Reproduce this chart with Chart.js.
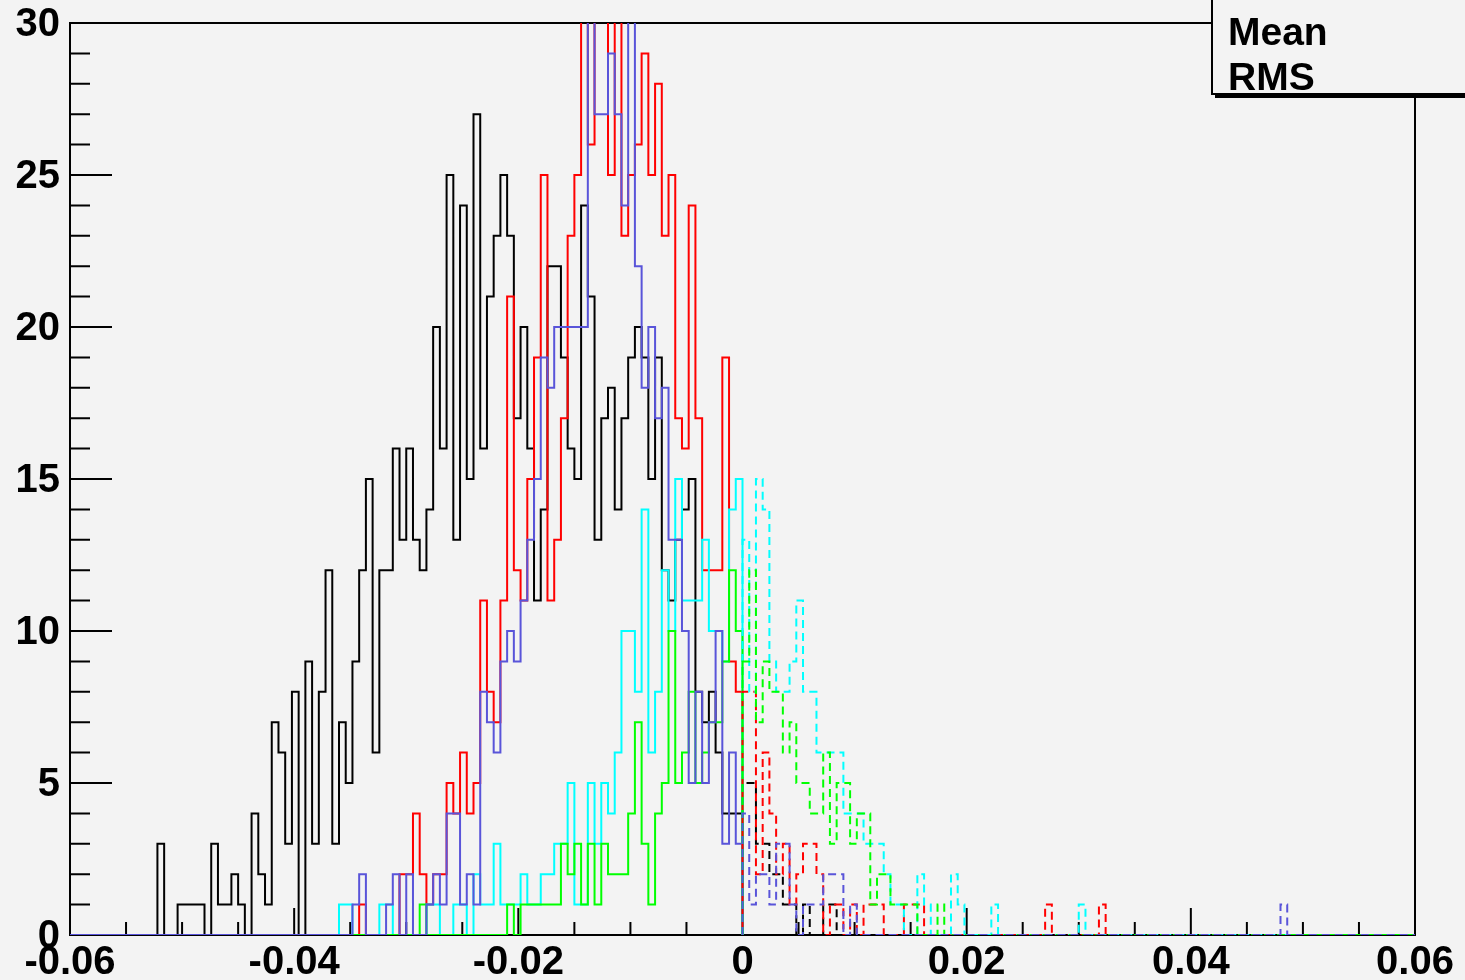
<!DOCTYPE html>
<html>
<head>
<meta charset="utf-8">
<script src="https://cdn.jsdelivr.net/npm/chart.js@4.4.0/dist/chart.umd.min.js"></script>
<style>
    html, body { margin: 0; padding: 0; background: #f3f3f3; overflow: hidden; }
    #wrap { position: relative; width: 1465px; height: 980px; }
    #stats { position: absolute; left: 1211px; top: -20px; width: 300px; height: 111px;
             border: 2px solid #000; box-shadow: 4px 3px 0 #000; background: #f3f3f3; }
    .stat { position: absolute; left: 1228px; font: bold 39px "Liberation Sans", Arial, sans-serif;
            line-height: 39px; color: #000; }
</style>
</head>
<body>
<div id="wrap">
    <canvas id="histChart" width="1465" height="980"></canvas>
    <div id="stats"></div>
    <div class="stat" style="top:12px">Mean</div>
    <div class="stat" style="top:57px">RMS</div>
</div>
<script>
// 200 bins from -0.06 to 0.06
const binLow = -0.06;
const binWidth = 0.0006;
const nBins = 200;

const xTickValues = [-0.06, -0.04, -0.02, 0, 0.02, 0.04, 0.06];
const yTickValues = [0, 5, 10, 15, 20, 25, 30];

// solid histograms (x < 0), counts start at the given bin
const blackFirst = 13;
const blackSolid = [3,0,0,1,1,1,1,0,3,1, 1,2,1,0,4,2,1,7,6,3, 8,0,9,3,8,12,3,7,5,9,
    12,15,6,12,12,16,13,16,13,12, 14,20,16,25,13,24,15,27,16,21, 23,25,23,17,20,16,11,14,22,22,
    19,16,15,24,21,13,17,18,14,17, 19,20,19,15,19,12,11,13,14,15, 8,7,8,6,4,4,4];

const redFirst = 43;
const redSolid = [1,0,0,0,0,0,2,2,4,2, 1,2,2,5,4,6,4,5,11,8, 7,11,21,12,11,15,19,25,11,13,
    17,23,25,31,26,31,31,25,31,23, 25,26,29,25,28,23,25,17,16,24, 17,12,12,12,19,9,8];

const blueFirst = 42;
const blueSolid = [1,2,0,0,0,1,2,0,2,0, 0,1,2,1,4,4,1,2,1,8, 7,6,9,10,9,11,13,15,19,18,
    20,20,20,20,20,31,27,27,29,27, 24,31,22,18,20,17,18,13,13,10, 5,8,5,7,10,3,6,3];

const cyanFirst = 40;
const cyanSolid = [1,1,0,0,0,0,1,1,0,0, 0,0,0,1,1,0,0,1,1,0, 2,1,1,3,1,1,1,2,1,1,
    2,2,3,3,5,1,1,5,3,5, 4,6,10,10,8,14,6,8,12,10, 15,11,11,11,13,10,10,9,14,15];

const greenFirst = 52;
const greenSolid = [1,0,0,0,0,0,0,0,0,0, 0,0,0,1,0,1,1,1,1,1, 1,3,2,3,1,3,1,3,2,2,
    2,4,7,3,1,4,5,10,5,6, 8,5,6,7,7,9,12,10];

// dashed histograms (x >= 0), counts start at bin 100
const dashedFirst = 100;
const blackDashed = [5,5,3,3,2,2,1,1,0,1, 0,0,1,1];
const redDashed = [8,8,2,6,4,2,3,1,2,3, 3,2,0,1,1,0,1,0,1,1, 1,0,0,0,1,1,1,0,0,0,
    0,0,0,0,0,0,0,0,0,0, 0,0,0,0,0,1,0,0,0,0, 0,0,0,1];
const greenDashed = [9,12,7,9,8,8,6,7,5,5, 4,4,6,3,5,5,3,4,4,1, 2,2,1,1,1,1,0,0,0,1];
const cyanDashed = [13,8,15,14,9,8,8,9,11,8, 8,6,6,6,6,4,4,4,3,3, 3,2,1,1,0,0,2,1,0,0,
    0,2,1,0,0,0,0,1,0,0, 0,0,0,0,0,0,0,0,0,0, 1];
const blueDashed = [4,1,2,2,1,3,3,1,0,1, 1,1,2,2,2,0,1,0,0,0, 0,0,0,0,0,0,0,0,0,0,
    0,0,0,0,0,0,0,0,0,0, 0,0,0,0,0,0,0,0,0,0, 0,0,0,0,0,0,0,0,0,0,
    0,0,0,0,0,0,0,0,0,0, 0,0,0,0,0,0,0,0,0,0, 1];

// outline points at bin edges, drawn as a step line
function histPoints(counts, firstBin, fromBin, toBin) {
    const pts = [{ x: binLow + fromBin * binWidth, y: 0 }];
    for (let i = fromBin; i < toBin; i++) {
        const k = i - firstBin;
        const v = (k >= 0 && k < counts.length) ? counts[k] : 0;
        pts.push({ x: binLow + i * binWidth, y: v });
    }
    pts.push({ x: binLow + toBin * binWidth, y: 0 });
    return pts;
}

function histDataset(label, counts, firstBin, fromBin, toBin, color, dashed) {
    return {
        label: label,
        data: histPoints(counts, firstBin, fromBin, toBin),
        borderColor: color,
        borderWidth: 2,
        borderDash: dashed ? [8, 5] : [],
        borderDashOffset: 0,
        pointRadius: 0,
        fill: false,
        stepped: 'before',
        tension: 0
    };
}

const blue = 'rgb(89,84,217)';

// first dataset is drawn on top
const datasets = [
    histDataset('blue dashed', blueDashed, dashedFirst, 100, nBins, blue, true),
    histDataset('green dashed', greenDashed, dashedFirst, 100, nBins, '#00ff00', true),
    histDataset('cyan dashed', cyanDashed, dashedFirst, 100, nBins, '#00ffff', true),
    histDataset('red dashed', redDashed, dashedFirst, 100, nBins, '#ff0000', true),
    histDataset('black dashed', blackDashed, dashedFirst, 100, nBins, '#000000', true),
    histDataset('blue', blueSolid, blueFirst, 0, 100, blue, false),
    histDataset('green', greenSolid, greenFirst, 0, 100, '#00ff00', false),
    histDataset('cyan', cyanSolid, cyanFirst, 0, 100, '#00ffff', false),
    histDataset('red', redSolid, redFirst, 0, 100, '#ff0000', false),
    histDataset('black', blackSolid, blackFirst, 0, 100, '#000000', false)
];
datasets[3].borderDashOffset = 6;

// frame and inward ticks, ROOT style
const rootFrame = {
    id: 'rootFrame',
    beforeDatasetsDraw(chart) {
        const ctx = chart.ctx;
        const a = chart.chartArea;
        const xs = chart.scales.x;
        const ys = chart.scales.y;
        ctx.save();
        ctx.strokeStyle = '#000';
        ctx.lineWidth = 2;
        ctx.strokeRect(a.left, a.top, a.right - a.left, a.bottom - a.top);
        ctx.beginPath();
        for (let v = 0; v <= 30; v++) {
            const py = ys.getPixelForValue(v);
            ctx.moveTo(a.left, py);
            ctx.lineTo(a.left + (v % 5 === 0 ? 42 : 20), py);
        }
        for (let k = -12; k <= 12; k++) {
            const px = xs.getPixelForValue(k * 0.005);
            ctx.moveTo(px, a.bottom);
            ctx.lineTo(px, a.bottom - (k % 4 === 0 ? 27 : 13));
        }
        ctx.stroke();
        ctx.restore();
    }
};

function fixBox(width, height) {
    return function (scale) {
        if (width !== null) scale.width = width;
        if (height !== null) scale.height = height;
        scale.paddingLeft = 0;
        scale.paddingRight = 0;
        scale.paddingTop = 0;
        scale.paddingBottom = 0;
    };
}

document.addEventListener('DOMContentLoaded', function () {
    Chart.defaults.font.family = '"Liberation Sans", Arial, sans-serif';
    Chart.defaults.font.size = 40;
    Chart.defaults.font.weight = 'bold';
    Chart.defaults.color = '#000';

    new Chart(document.getElementById('histChart').getContext('2d'), {
        type: 'line',
        data: { datasets: datasets },
        options: {
            responsive: false,
            animation: false,
            devicePixelRatio: 1,
            layout: { padding: { left: 0, right: 50, top: 23, bottom: 0 } },
            plugins: { legend: { display: false }, tooltip: { enabled: false } },
            scales: {
                x: {
                    type: 'linear',
                    min: -0.06,
                    max: 0.06,
                    afterFit: fixBox(null, 45),
                    afterBuildTicks: function (scale) {
                        scale.ticks = xTickValues.map(v => ({ value: v }));
                    },
                    grid: { display: false, drawTicks: false },
                    border: { display: false },
                    ticks: {
                        autoSkip: false,
                        maxRotation: 0,
                        padding: 4,
                        callback: function (v) {
                            const r = Math.round(v * 100) / 100;
                            return r === 0 ? '0' : r.toFixed(2);
                        }
                    }
                },
                y: {
                    type: 'linear',
                    min: 0,
                    max: 30,
                    afterFit: fixBox(70, null),
                    afterBuildTicks: function (scale) {
                        scale.ticks = yTickValues.map(v => ({ value: v }));
                    },
                    grid: { display: false, drawTicks: false },
                    border: { display: false },
                    ticks: { autoSkip: false, padding: 10, labelOffset: 2 }
                }
            }
        },
        plugins: [rootFrame]
    });
});
</script>
</body>
</html>
